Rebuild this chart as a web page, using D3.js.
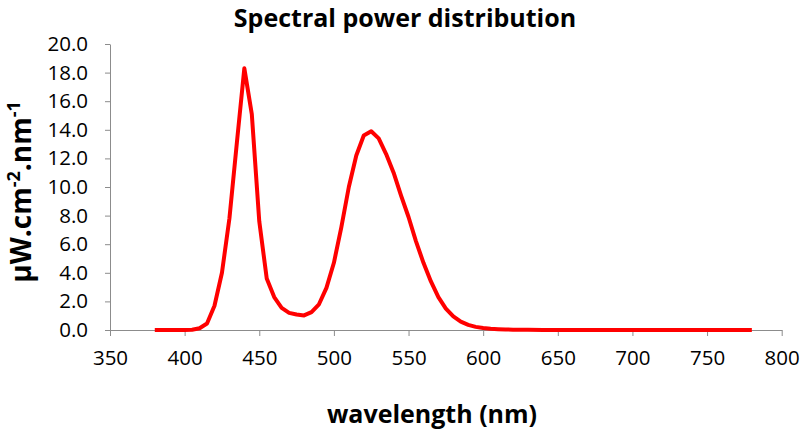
<!DOCTYPE html>
<html>
<head>
<meta charset="utf-8">
<script src="https://cdn.jsdelivr.net/npm/d3@7"></script>
<style>
  html, body { margin: 0; padding: 0; background: #fff; }
  svg { display: block; }
  text { font-family: "Open Sans", Lato, sans-serif; fill: #000; }
</style>
</head>
<body>
<svg id="chart" width="800" height="433"></svg>
<script>
const title = "Spectral power distribution";
const xTitle = "wavelength (nm)";
const wavelengths = [380,385,390,395,400,405,410,415,420,425,430,435,440,445,450,455,460,465,470,475,480,485,490,495,500,505,510,515,520,525,530,535,540,545,550,555,560,565,570,575,580,585,590,595,600,605,610,615,620,625,630,640,650,660,670,680,690,700,710,720,730,740,750,760,770,780];
const power = [0,0,0,0,0,0.02,0.12,0.45,1.7,4.0,7.8,13.1,18.3,15.1,7.6,3.6,2.3,1.55,1.2,1.08,1.02,1.25,1.8,2.95,4.7,7.2,10.0,12.2,13.6,13.9,13.4,12.3,11.0,9.4,7.9,6.2,4.7,3.4,2.3,1.5,0.95,0.58,0.36,0.22,0.14,0.09,0.06,0.04,0.02,0.01,0.01,0,0,0,0,0,0,0,0,0,0,0,0,0,0,0];
const xTicks = [350,400,450,500,550,600,650,700,750,800];
const yTicks = [0,2,4,6,8,10,12,14,16,18,20];

const svg = d3.select("#chart");
const x = d3.scaleLinear().domain([350, 800]).range([110, 781.7]);
const y = d3.scaleLinear().domain([0, 20]).range([330, 44]);
const axisColor = "#8c8c8c";

// Y axis
const gy = svg.append("g").attr("transform", `translate(${x(350)},0)`)
  .call(d3.axisLeft(y).tickValues(yTicks).tickFormat(d3.format(".1f")).tickSizeInner(5).tickSizeOuter(0).tickPadding(17));
gy.selectAll("path, line").attr("stroke", axisColor);
gy.selectAll("text").attr("font-size", 20.5).attr("font-family", "'Open Sans', sans-serif").attr("fill", "#000");

// X axis
const gx = svg.append("g").attr("transform", `translate(0,${y(0)})`)
  .call(d3.axisBottom(x).tickValues(xTicks).tickFormat(d3.format("d")).tickSizeInner(6).tickSizeOuter(0).tickPadding(14));
gx.selectAll("path, line").attr("stroke", axisColor);
gx.selectAll("text").attr("font-size", 20.5).attr("font-family", "'Open Sans', sans-serif").attr("fill", "#000");

// Line
const line = d3.line().x((d, i) => x(wavelengths[i])).y(d => y(d));
svg.append("path").datum(power)
  .attr("d", line)
  .attr("fill", "none")
  .attr("stroke", "#ff0000")
  .attr("stroke-width", 4)
  .attr("stroke-linejoin", "round");

// Title
svg.append("text").attr("x", 405).attr("y", 27).attr("text-anchor", "middle")
  .attr("font-size", 25).attr("font-weight", "bold").text(title);

// X title
svg.append("text").attr("x", 432).attr("y", 423).attr("text-anchor", "middle")
  .attr("font-size", 25).attr("font-weight", "bold").text(xTitle);

// Y title
const yt = svg.append("text").attr("transform", "translate(31,192) rotate(-90)")
  .attr("text-anchor", "middle").attr("font-size", 28).attr("font-weight", "bold");
yt.append("tspan").text("µW.cm");
yt.append("tspan").attr("dy", -11).attr("font-size", 18).text("-2");
yt.append("tspan").attr("dy", 11).text(".nm");
yt.append("tspan").attr("dy", -11).attr("font-size", 18).text("-1");
</script>
</body>
</html>
